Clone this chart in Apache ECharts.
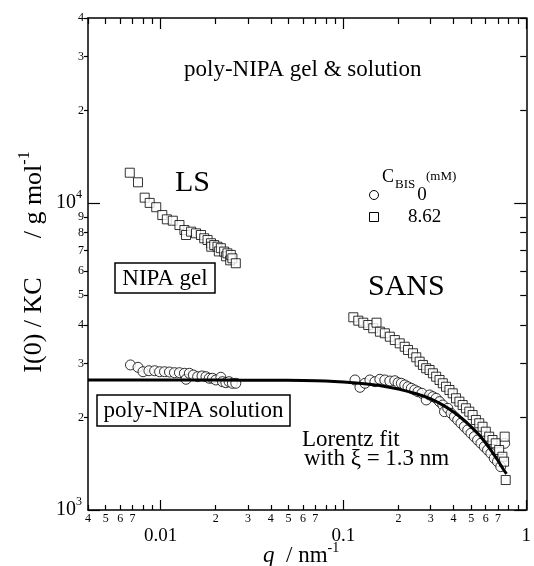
<!DOCTYPE html>
<html><head><meta charset="utf-8">
<script src="https://cdn.jsdelivr.net/npm/echarts@6/dist/echarts.min.js"></script>
<style>html,body{margin:0;padding:0;background:#fff}#c{width:534px;height:566px}</style>
</head><body><div id="c"></div>
<script>
// ---------- data ----------
const lsGelQ = [0.00677,0.00751,0.00817,0.0087,0.00945,0.0102,0.0108,0.01164,0.01266,0.01348,0.01376,0.01466,0.0156,0.0166,0.0173,0.01804,0.01883,0.0189,0.01962,0.02044,0.0208,0.02133,0.02224,0.0228,0.02317,0.0240,0.02418,0.02467,0.02575];
const lsGelI = [12540,11670,10400,10000,9680,9130,8840,8750,8470,8160,7860,8060,7960,7860,7670,7570,7390,7200,7290,7200,6950,7120,6940,6700,6850,6500,6770,6600,6360];

const lsSolQ = [0.00683,0.00751,0.0080,0.00862,0.00926,0.00986,0.01049,0.01117,0.01189,0.01266,0.01348,0.01376,0.01435,0.01508,0.01592,0.01682,0.01768,0.01842,0.0192,0.02004,0.02133,0.02176,0.02272,0.02367,0.02467,0.02575];
const lsSolI = [2967,2915,2820,2841,2841,2820,2820,2814,2800,2800,2787,2665,2787,2752,2717,2732,2717,2685,2685,2651,2705,2617,2597,2617,2586,2586];

const sansGelQ = [0.1132,0.1205,0.1283,0.1366,0.1455,0.1516,0.1582,0.1684,0.1793,0.1909,0.2032,0.2163,0.2254,0.240,0.2502,0.261,0.272,0.2835,0.2958,0.3084,0.3214,0.3353,0.3495,0.364,0.380,0.396,0.4128,0.4308,0.4488,0.4677,0.488,0.5088,0.5304,0.5532,0.5768,0.6008,0.6268,0.6536,0.6808,0.7108,0.7404,0.7564,0.762,0.772];
const sansGelI = [4242,4135,4073,4004,3906,4073,3807,3762,3667,3576,3488,3400,3319,3238,3142,3041,2967,2894,2857,2787,2717,2651,2586,2520,2459,2399,2311,2253,2197,2144,2090,2038,1964,1916,1867,1799,1733,1690,1649,1568,1491,1437,1733,1252];

const sansSolQ = [0.1156,0.1231,0.1311,0.1395,0.1486,0.1582,0.1684,0.1793,0.1909,0.199,0.2073,0.2163,0.2254,0.235,0.2452,0.2555,0.2686,0.2835,0.2958,0.3084,0.3214,0.3353,0.3495,0.3569,0.372,0.3877,0.4045,0.4216,0.4392,0.4584,0.478,0.498,0.5196,0.5416,0.5648,0.5892,0.614,0.64,0.668,0.696,0.7252,0.762];
const sansSolI = [2651,2509,2586,2651,2617,2665,2651,2630,2636,2597,2586,2553,2520,2490,2459,2428,2399,2282,2369,2339,2311,2253,2197,2090,2144,2065,2013,1964,1916,1867,1822,1777,1733,1690,1649,1607,1568,1530,1473,1437,1384,1649];

const fitQ = [0.004,0.01,0.02,0.04,0.06,0.08,0.1,0.13,0.16,0.2,0.25,0.3,0.35,0.4,0.45,0.5,0.55,0.6,0.65,0.7,0.75,0.78];
const fitI = [2650,2650,2649,2645,2640,2630,2610,2575,2540,2475,2390,2300,2195,2085,1975,1865,1760,1650,1545,1450,1355,1310];

const xMajorTicks = [0.01, 0.1, 1];
const xMajorLabels = ['0.01', '0.1', '1'];
const xMinorTicks = [0.004,0.005,0.006,0.007,0.008,0.009,0.02,0.03,0.04,0.05,0.06,0.07,0.08,0.09,0.2,0.3,0.4,0.5,0.6,0.7,0.8,0.9];
const xMinorLabelVals = [0.004,0.005,0.006,0.007,0.02,0.03,0.04,0.05,0.06,0.07,0.2,0.3,0.4,0.5,0.6,0.7];
const xMinorLabels = ['4','5','6','7','2','3','4','5','6','7','2','3','4','5','6','7'];
const yMajorTicks = [1000, 10000];
const yMajorExp = ['3', '4'];
const yMinorTicks = [2000,3000,4000,5000,6000,7000,8000,9000,20000,30000,40000];
const yMinorLabels = ['2','3','4','5','6','7','8','9','2','3','4'];

// ---------- helpers ----------
const FONT = 'Liberation Serif';
const L10 = Math.log10;
const zip = (a, b) => a.map((v, i) => [v, b[i]]);
const lookup = (vals, labels) => (v) => {
  const i = vals.findIndex(t => Math.abs(L10(t) - v) < 1e-6);
  return i >= 0 ? labels[i] : '';
};
const X0 = L10(0.004), X1 = 0, Y0 = 3, Y1 = L10(40000);
const black = '#000';

function valAxis(pos, min, max, ticks, tickLen, inside, labelOpt, lineShow) {
  return {
    type: 'value', position: pos, min: min, max: max, gridIndex: 0,
    axisLine: { show: !!lineShow, onZero: false, lineStyle: { color: black, width: 1.5 } },
    axisTick: { show: true, inside: inside, length: tickLen, customValues: ticks.map(L10), lineStyle: { color: black, width: 1.2 } },
    axisLabel: labelOpt ? labelOpt : { show: false },
    splitLine: { show: false }, minorTick: { show: false }, minorSplitLine: { show: false }
  };
}

const option = {
  animation: false,
  backgroundColor: '#fff',
  grid: { left: 88, top: 18, right: 5, bottom: 56, containLabel: false },
  xAxis: [
    { type: 'log', logBase: 10, min: 0.004, max: 1, position: 'bottom',
      axisLine: { onZero: false, lineStyle: { color: black, width: 1.5 } },
      axisTick: { show: false }, axisLabel: { show: false }, splitLine: { show: false }, minorTick: { show: false } },
    valAxis('bottom', X0, X1, xMajorTicks, 10, true,
      { customValues: xMajorTicks.map(L10), formatter: lookup(xMajorTicks, xMajorLabels),
        fontFamily: FONT, fontSize: 19, color: black, margin: 17 }),
    valAxis('bottom', X0, X1, xMinorTicks, 5, true,
      { customValues: xMinorLabelVals.map(L10), formatter: lookup(xMinorLabelVals, xMinorLabels),
        fontFamily: FONT, fontSize: 12, color: black, margin: 3 }),
    valAxis('top', X0, X1, xMajorTicks, 11, true, null, true),
    valAxis('top', X0, X1, xMinorTicks, 6, true, null, false)
  ],
  yAxis: [
    { type: 'log', logBase: 10, min: 1000, max: 40000, position: 'left',
      axisLine: { onZero: false, lineStyle: { color: black, width: 1.5 } },
      axisTick: { show: false }, axisLabel: { show: false }, splitLine: { show: false }, minorTick: { show: false } },
    valAxis('left', Y0, Y1, yMajorTicks, 12, true,
      { customValues: yMajorTicks.map(L10),
        formatter: (v) => { const e = lookup(yMajorTicks, yMajorExp)(v); return e ? '{b|10}{s|' + e + '}' : ''; },
        margin: 6,
        rich: { b: { fontFamily: FONT, fontSize: 20, color: black, lineHeight: 28 },
                s: { fontFamily: FONT, fontSize: 12, color: black, lineHeight: 12, verticalAlign: 'top' } } }),
    valAxis('left', Y0, Y1, yMinorTicks, 4, false,
      { customValues: yMinorTicks.map(L10), formatter: lookup(yMinorTicks, yMinorLabels),
        fontFamily: FONT, fontSize: 12, color: black, margin: 4 }),
    valAxis('right', Y0, Y1, yMajorTicks, 12, true, null, true),
    valAxis('right', Y0, Y1, yMinorTicks, 6, true, null, false)
  ],
  series: [
    { type: 'scatter', name: 'ls-sol', data: zip(lsSolQ, lsSolI), xAxisIndex: 0, yAxisIndex: 0,
      symbol: 'circle', symbolSize: 10, z: 2,
      itemStyle: { color: '#fff', borderColor: black, borderWidth: 1 } },
    { type: 'scatter', name: 'sans-sol', data: zip(sansSolQ, sansSolI), xAxisIndex: 0, yAxisIndex: 0,
      symbol: 'circle', symbolSize: 10, z: 2,
      itemStyle: { color: '#fff', borderColor: black, borderWidth: 1 } },
    { type: 'scatter', name: 'ls-gel', data: zip(lsGelQ, lsGelI), xAxisIndex: 0, yAxisIndex: 0,
      symbol: 'rect', symbolSize: 9, z: 3,
      itemStyle: { color: '#fff', borderColor: black, borderWidth: 1 } },
    { type: 'scatter', name: 'sans-gel', data: zip(sansGelQ, sansGelI), xAxisIndex: 0, yAxisIndex: 0,
      symbol: 'rect', symbolSize: 9, z: 3,
      itemStyle: { color: '#fff', borderColor: black, borderWidth: 1 } },
    { type: 'line', name: 'fit', data: zip(fitQ, fitI), xAxisIndex: 0, yAxisIndex: 0,
      showSymbol: false, symbol: 'none', smooth: 0.3, z: 5,
      lineStyle: { color: black, width: 3 } }
  ],
  graphic: [
    { type: 'text', x: 184, y: 70, z: 10, style: { text: 'poly-NIPA gel & solution', font: '23px ' + FONT, fill: black, textAlign: 'left', textVerticalAlign: 'middle' } },
    { type: 'text', x: 175, y: 183, z: 10, style: { text: 'LS', font: '30px ' + FONT, fill: black, textAlign: 'left', textVerticalAlign: 'middle' } },
    { type: 'text', x: 368, y: 287, z: 10, style: { text: 'SANS', font: '30px ' + FONT, fill: black, textAlign: 'left', textVerticalAlign: 'middle' } },
    { type: 'text', x: 382, y: 177.5, z: 10, style: { text: 'C', font: '18px ' + FONT, fill: black, textAlign: 'left', textVerticalAlign: 'middle' } },
    { type: 'text', x: 395, y: 185, z: 10, style: { text: 'BIS', font: '13px ' + FONT, fill: black, textAlign: 'left', textVerticalAlign: 'middle' } },
    { type: 'text', x: 426, y: 177, z: 10, style: { text: '(mM)', font: '13px ' + FONT, fill: black, textAlign: 'left', textVerticalAlign: 'middle' } },
    { type: 'circle', z: 10, shape: { cx: 374, cy: 195, r: 4.5 }, style: { fill: '#fff', stroke: black, lineWidth: 1 } },
    { type: 'text', x: 422, y: 195, z: 10, style: { text: '0', font: '19px ' + FONT, fill: black, textAlign: 'center', textVerticalAlign: 'middle' } },
    { type: 'rect', z: 10, shape: { x: 369.5, y: 212.5, width: 9, height: 9 }, style: { fill: '#fff', stroke: black, lineWidth: 1 } },
    { type: 'text', x: 408, y: 217, z: 10, style: { text: '8.62', font: '19px ' + FONT, fill: black, textAlign: 'left', textVerticalAlign: 'middle' } },
    { type: 'rect', z: 10, shape: { x: 115, y: 263, width: 100, height: 30 }, style: { fill: '#fff', stroke: black, lineWidth: 1.5 } },
    { type: 'text', x: 165, y: 278.5, z: 11, style: { text: 'NIPA gel', font: '23px ' + FONT, fill: black, textAlign: 'center', textVerticalAlign: 'middle' } },
    { type: 'rect', z: 10, shape: { x: 97, y: 395, width: 193, height: 31 }, style: { fill: '#fff', stroke: black, lineWidth: 1.5 } },
    { type: 'text', x: 193.5, y: 411, z: 11, style: { text: 'poly-NIPA solution', font: '23px ' + FONT, fill: black, textAlign: 'center', textVerticalAlign: 'middle' } },
    { type: 'text', x: 302, y: 440, z: 10, style: { text: 'Lorentz fit', font: '23px ' + FONT, fill: black, textAlign: 'left', textVerticalAlign: 'middle' } },
    { type: 'text', x: 304, y: 459, z: 10, style: { text: 'with ξ = 1.3 nm', font: '23px ' + FONT, fill: black, textAlign: 'left', textVerticalAlign: 'middle' } },
    { type: 'text', x: 263, y: 556, z: 10, style: {
        text: '{i|q}{n|  / nm}{s|-1}', textAlign: 'left', textVerticalAlign: 'middle',
        rich: { i: { font: 'italic 23px ' + FONT, fill: black, lineHeight: 30 },
                n: { font: '23px ' + FONT, fill: black, lineHeight: 30 },
                s: { font: '14px ' + FONT, fill: black, lineHeight: 14, verticalAlign: 'top' } } } },
    { type: 'text', x: 34, y: 262, rotation: Math.PI / 2, z: 10, style: {
        text: '{t|I(0) / KC      / g mol}{s|-1}', textAlign: 'center', textVerticalAlign: 'middle',
        rich: { t: { font: '26px ' + FONT, fill: black, lineHeight: 34 },
                s: { font: '16px ' + FONT, fill: black, lineHeight: 16, verticalAlign: 'top' } } } }
  ]
};
const chart = echarts.init(document.getElementById('c'), null, { renderer: 'canvas' });
chart.setOption(option);
</script></body></html>
